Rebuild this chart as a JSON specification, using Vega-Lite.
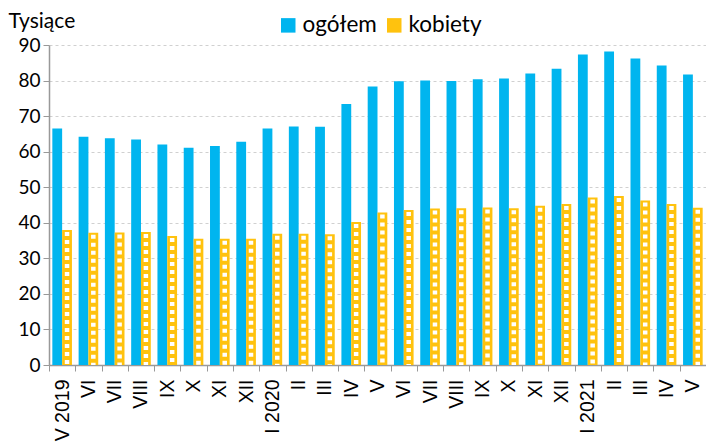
{
  "$schema": "https://vega.github.io/schema/vega-lite/v6.json",
  "width": 657,
  "height": 320,
  "autosize": {"type": "none"},
  "padding": {"left": 49, "top": 45, "right": 0, "bottom": 78},
  "background": "white",
  "config": {"view": {"stroke": null}, "font": "Lato"},
  "data": {
    "values": [
      {"m": "V 2019", "s": "ogółem", "v": 66.5}, {"m": "V 2019", "s": "kobiety", "v": 38.0},
      {"m": "VI", "s": "ogółem", "v": 64.2}, {"m": "VI", "s": "kobiety", "v": 37.2},
      {"m": "VII", "s": "ogółem", "v": 63.8}, {"m": "VII", "s": "kobiety", "v": 37.3},
      {"m": "VIII", "s": "ogółem", "v": 63.4}, {"m": "VIII", "s": "kobiety", "v": 37.4},
      {"m": "IX", "s": "ogółem", "v": 62.0}, {"m": "IX", "s": "kobiety", "v": 36.3},
      {"m": "X", "s": "ogółem", "v": 61.1}, {"m": "X", "s": "kobiety", "v": 35.5},
      {"m": "XI", "s": "ogółem", "v": 61.6}, {"m": "XI", "s": "kobiety", "v": 35.5},
      {"m": "XII", "s": "ogółem", "v": 62.8}, {"m": "XII", "s": "kobiety", "v": 35.5},
      {"m": "I 2020", "s": "ogółem", "v": 66.5}, {"m": "I 2020", "s": "kobiety", "v": 36.9},
      {"m": "II", "s": "ogółem", "v": 67.1}, {"m": "II", "s": "kobiety", "v": 36.9},
      {"m": "III", "s": "ogółem", "v": 67.0}, {"m": "III", "s": "kobiety", "v": 36.8},
      {"m": "IV", "s": "ogółem", "v": 73.4}, {"m": "IV", "s": "kobiety", "v": 40.2},
      {"m": "V", "s": "ogółem", "v": 78.3}, {"m": "V", "s": "kobiety", "v": 42.9},
      {"m": "VI ", "s": "ogółem", "v": 79.8}, {"m": "VI ", "s": "kobiety", "v": 43.6},
      {"m": "VII ", "s": "ogółem", "v": 80.0}, {"m": "VII ", "s": "kobiety", "v": 44.0},
      {"m": "VIII ", "s": "ogółem", "v": 79.9}, {"m": "VIII ", "s": "kobiety", "v": 44.1},
      {"m": "IX ", "s": "ogółem", "v": 80.4}, {"m": "IX ", "s": "kobiety", "v": 44.3},
      {"m": "X ", "s": "ogółem", "v": 80.6}, {"m": "X ", "s": "kobiety", "v": 44.1},
      {"m": "XI ", "s": "ogółem", "v": 82.0}, {"m": "XI ", "s": "kobiety", "v": 44.8},
      {"m": "XII ", "s": "ogółem", "v": 83.3}, {"m": "XII ", "s": "kobiety", "v": 45.3},
      {"m": "I 2021", "s": "ogółem", "v": 87.3}, {"m": "I 2021", "s": "kobiety", "v": 47.1},
      {"m": "II ", "s": "ogółem", "v": 88.2}, {"m": "II ", "s": "kobiety", "v": 47.5},
      {"m": "III ", "s": "ogółem", "v": 86.2}, {"m": "III ", "s": "kobiety", "v": 46.3},
      {"m": "IV ", "s": "ogółem", "v": 84.2}, {"m": "IV ", "s": "kobiety", "v": 45.3},
      {"m": "V ", "s": "ogółem", "v": 81.7}, {"m": "V ", "s": "kobiety", "v": 44.2}
    ]
  },
  "encoding": {
    "x": {
      "field": "m", "type": "nominal",
      "sort": ["V 2019", "VI", "VII", "VIII", "IX", "X", "XI", "XII", "I 2020", "II", "III", "IV", "V", "VI ", "VII ", "VIII ", "IX ", "X ", "XI ", "XII ", "I 2021", "II ", "III ", "IV ", "V "],
      "scale": {"paddingInner": 0, "paddingOuter": 0},
      "axis": {
        "title": null, "labelAngle": -90, "labelAlign": "right", "labelBaseline": "middle",
        "labelFont": "Liberation Sans", "labelFontSize": 19.5, "labelColor": "#000",
        "labelPadding": 8, "tickBand": "extent", "tickColor": "#999", "tickSize": 6,
        "domainColor": "#999", "domainWidth": 1.5, "grid": false
      }
    },
    "xOffset": {"field": "s", "type": "nominal", "sort": ["ogółem", "kobiety"], "scale": {"paddingInner": 0, "paddingOuter": 0.34}},
    "y": {
      "field": "v", "type": "quantitative",
      "scale": {"domain": [0, 90], "nice": false},
      "axis": {
        "values": [0, 10, 20, 30, 40, 50, 60, 70, 80, 90],
        "title": "Tysiące", "titleAngle": 0, "titleAlign": "left", "titleBaseline": "alphabetic",
        "titleX": -41, "titleY": -18, "titleFont": "Lato", "titleFontSize": 21, "titleFontWeight": "normal", "titleColor": "#000",
        "labelFont": "Lato", "labelFontSize": 19, "labelColor": "#000", "labelPadding": 3,
        "tickColor": "#999", "tickSize": 6, "domainColor": "#999", "domainWidth": 1.5,
        "gridColor": "#d0d0d0", "gridDash": [3, 3], "gridWidth": 1
      }
    }
  },
  "layer": [
    {
      "mark": {"type": "bar"},
      "encoding": {
        "color": {
          "field": "s", "type": "nominal",
          "scale": {"domain": ["ogółem", "kobiety"], "range": ["#00B5EF", "#FFC20E"]},
          "legend": {
            "title": null, "orient": "none", "legendX": 228, "legendY": -31, "direction": "horizontal",
            "symbolType": "square", "symbolSize": 210, "symbolStrokeWidth": 0,
            "labelFont": "Lato", "labelFontSize": 22.5, "labelColor": "#000", "labelOffset": 3,
            "columnPadding": 6
          }
        }
      }
    },
    {
      "transform": [{"filter": "datum.s == 'kobiety'"}],
      "mark": {"type": "rule", "color": "white", "strokeWidth": 4.5, "strokeDash": [4, 4], "strokeDashOffset": 6},
      "encoding": {"y2": {"datum": 0}}
    }
  ]
}
